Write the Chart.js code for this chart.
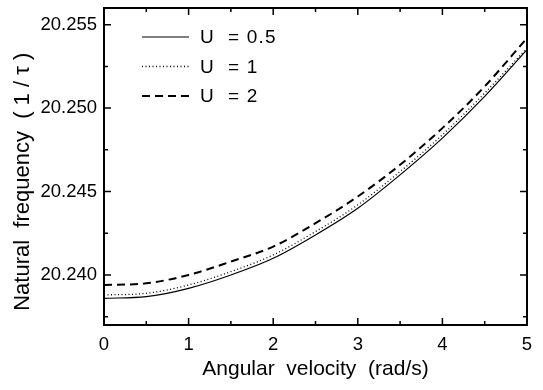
<!DOCTYPE html>
<html>
<head>
<meta charset="utf-8">
<script src="https://cdn.jsdelivr.net/npm/chart.js@4/dist/chart.umd.min.js"></script>
<style>
  html, body { margin: 0; padding: 0; background: #fff; }
  #wrap { width: 543px; height: 390px; position: relative; }
</style>
</head>
<body>
<div id="wrap"><canvas id="c" width="543" height="390"></canvas></div>
<script>
// ---- data ----
const velocity = [0, 0.5, 1, 1.5, 2, 2.5, 3, 3.5, 4, 4.5, 5];
const freqU05 = [20.2386, 20.2387, 20.2392, 20.2400, 20.2410, 20.2424, 20.2440, 20.2460, 20.2482, 20.2507, 20.2535];
const freqU1  = [20.2388, 20.2389, 20.2394, 20.2402, 20.2412, 20.2426, 20.2442, 20.2462, 20.2484, 20.2509, 20.2536];
const freqU2  = [20.2394, 20.2395, 20.2400, 20.2408, 20.2417, 20.2431, 20.2447, 20.2466, 20.2488, 20.2513, 20.2542];
const seriesLabels = ['U  = 0.5', 'U  = 1', 'U  = 2'];
const xTicks = [0, 1, 2, 3, 4, 5];
const xMinorTicks = [0.5, 1.5, 2.5, 3.5, 4.5];
const yTicks = [20.240, 20.245, 20.250, 20.255];
const yMinorTicks = [20.2375, 20.2425, 20.2475, 20.2525];
const xTitle = 'Angular  velocity  (rad/s)';
const yTitle = 'Natural  frequency  ( 1 / \u03C4 )';

const FONT = "'Liberation Sans', Arial, Helvetica, sans-serif";

const framePlugin = {
  id: 'frameTicks',
  afterDatasetsDraw(chart) {
    const { ctx, chartArea: a, scales } = chart;
    const xs = scales.x, ys = scales.y;
    ctx.save();
    ctx.strokeStyle = '#000';
    ctx.lineWidth = 1.5;
    ctx.beginPath();
    const majorLen = 7, minorLen = 4;
    const vt = (vals, len) => vals.forEach(v => {
      const px = xs.getPixelForValue(v);
      ctx.moveTo(px, a.bottom); ctx.lineTo(px, a.bottom - len);
      ctx.moveTo(px, a.top); ctx.lineTo(px, a.top + len);
    });
    const ht = (vals, len) => vals.forEach(v => {
      const py = ys.getPixelForValue(v);
      ctx.moveTo(a.left, py); ctx.lineTo(a.left + len, py);
      ctx.moveTo(a.right, py); ctx.lineTo(a.right - len, py);
    });
    vt(xTicks, majorLen); vt(xMinorTicks, minorLen);
    ht(yTicks, majorLen); ht(yMinorTicks, minorLen);
    ctx.stroke();
    ctx.lineWidth = 2;
    ctx.strokeRect(a.left, a.top, a.right - a.left, a.bottom - a.top);
    ctx.restore();
  }
};

const legendPlugin = {
  id: 'insideLegend',
  afterDraw(chart) {
    const { ctx, chartArea: a } = chart;
    ctx.save();
    ctx.font = '19px ' + FONT;
    if ('letterSpacing' in ctx) ctx.letterSpacing = '1.2px';
    ctx.fillStyle = '#000';
    ctx.textBaseline = 'middle';
    chart.data.datasets.forEach((ds, i) => {
      const y = a.top + 29 + i * 29.5;
      const x0 = a.left + 38;
      ctx.strokeStyle = '#000';
      ctx.lineWidth = ds.borderWidth;
      ctx.setLineDash(ds.borderDash || []);
      ctx.beginPath();
      ctx.moveTo(x0, y); ctx.lineTo(x0 + 47, y);
      ctx.stroke();
      ctx.setLineDash([]);
      ctx.fillText(ds.label, x0 + 58, y + 1);
    });
    ctx.restore();
  }
};

new Chart(document.getElementById('c'), {
  type: 'line',
  data: {
    labels: velocity,
    datasets: [
      { label: seriesLabels[0], data: freqU05, borderColor: '#000', borderWidth: 1.2, borderDash: [], pointRadius: 0, cubicInterpolationMode: 'monotone', fill: false },
      { label: seriesLabels[1], data: freqU1, borderColor: '#000', borderWidth: 1.3, borderDash: [1, 2.5], pointRadius: 0, cubicInterpolationMode: 'monotone', fill: false },
      { label: seriesLabels[2], data: freqU2, borderColor: '#000', borderWidth: 2, borderDash: [8, 5], pointRadius: 0, cubicInterpolationMode: 'monotone', fill: false }
    ]
  },
  options: {
    responsive: false,
    animation: false,
    devicePixelRatio: 1,
    layout: { padding: { top: 8, right: 16, left: 0, bottom: 0 } },
    plugins: { legend: { display: false }, tooltip: { enabled: false } },
    scales: {
      x: {
        type: 'linear', min: 0, max: 5,
        afterBuildTicks: s => { s.ticks = xTicks.map(v => ({ value: v })); },
        afterFit: s => { s.height = 65; s.paddingLeft = 0; s.paddingRight = 0; },
        grid: { display: false, drawTicks: false },
        border: { display: false },
        ticks: { color: '#000', font: { family: FONT, size: 18.5 }, padding: 9, maxRotation: 0, callback: v => String(v) },
        title: { display: true, text: xTitle, color: '#000', font: { family: FONT, size: 21 }, padding: { top: 4, bottom: 8 } }
      },
      y: {
        type: 'linear', min: 20.237, max: 20.256,
        afterBuildTicks: s => { s.ticks = yTicks.map(v => ({ value: v })); },
        afterFit: s => { s.width = 104; s.paddingTop = 0; s.paddingBottom = 0; },
        grid: { display: false, drawTicks: false },
        border: { display: false },
        ticks: { color: '#000', font: { family: FONT, size: 18.5 }, padding: 7, callback: v => Number(v).toFixed(3) },
        title: { display: true, text: yTitle + '     ', color: '#000', font: { family: FONT, size: 22 }, padding: { top: 10, bottom: 0 } }
      }
    }
  },
  plugins: [framePlugin, legendPlugin]
});
</script>
</body>
</html>
